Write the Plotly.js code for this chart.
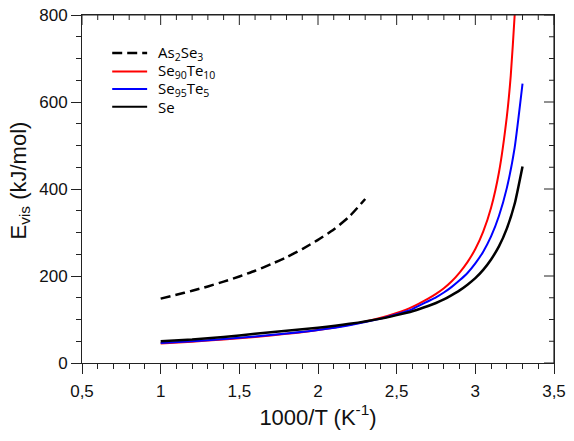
<!DOCTYPE html>
<html lang="en">
<head>
    <meta charset="UTF-8">
    <title>Viscous flow activation energy</title>
    <script src="https://cdn.plot.ly/plotly-3.0.1.min.js" charset="utf-8"></script>
    <style>
        body { margin: 0; background: #fff; }
        #chart { width: 574px; height: 441px; }
    </style>
</head>
<body>
<div id="chart"></div>
<script>
// As2Se3 (dashed)
const xAsSe = [1.0, 1.1, 1.2, 1.3, 1.4, 1.5, 1.6, 1.7, 1.8, 1.9, 2.0, 2.1, 2.2, 2.3];
const yAsSe = [148, 157, 166, 176, 187, 199, 212, 227, 243, 262, 283, 307, 337, 377];

// Se90Te10
const xTe10 = [1.0, 1.2, 1.4, 1.6, 1.8, 2.0, 2.2, 2.4, 2.5, 2.6, 2.7, 2.75, 2.8, 2.85, 2.9, 2.95, 3.0, 3.05, 3.1, 3.15, 3.2, 3.225, 3.25, 3.275];
const yTe10 = [45, 49, 54, 60, 67, 76, 88, 104, 115, 129, 148, 159, 172, 188, 208, 232, 262, 302, 357, 438, 566, 660, 800, 1020];

// Se95Te5
const xTe5 = [1.0, 1.2, 1.4, 1.6, 1.8, 2.0, 2.2, 2.4, 2.5, 2.6, 2.7, 2.75, 2.8, 2.85, 2.9, 2.95, 3.0, 3.05, 3.1, 3.15, 3.2, 3.25, 3.3];
const yTe5 = [46, 50, 55, 61, 68, 76, 87, 102, 112, 124, 142, 151, 162, 175, 190, 207, 229, 256, 291, 338, 402, 495, 642];

// Se
const xSe = [1.0, 1.2, 1.4, 1.6, 1.8, 2.0, 2.2, 2.4, 2.5, 2.6, 2.7, 2.75, 2.8, 2.85, 2.9, 2.95, 3.0, 3.05, 3.1, 3.15, 3.2, 3.25, 3.3];
const ySe = [50, 54, 60, 67, 74, 81, 90, 102, 110, 119, 131, 138, 146, 156, 167, 180, 195, 214, 238, 268, 309, 366, 452];

// tick positions for the inward ticks on the top and right edges
const xMajor = [0.5, 1, 1.5, 2, 2.5, 3, 3.5];
const xMinor = [0.6, 0.7, 0.8, 0.9, 1.1, 1.2, 1.3, 1.4, 1.6, 1.7, 1.8, 1.9, 2.1, 2.2, 2.3, 2.4,
                2.6, 2.7, 2.8, 2.9, 3.1, 3.2, 3.3, 3.4];
const yMajor = [0, 200, 400, 600, 800];
const yMinor = [50, 100, 150, 250, 300, 350, 450, 500, 550, 650, 700, 750];

// legend entries
const legendNames = ['As<sub>2</sub>Se<sub>3</sub>', 'Se<sub>90</sub>Te<sub>10</sub>', 'Se<sub>95</sub>Te<sub>5</sub>', 'Se'];
const legendColors = ['#000000', '#ff0000', '#0000ff', '#000000'];
const legendDash = ['10px,5px', 'solid', 'solid', 'solid'];
const legendY = [0.891, 0.838, 0.787, 0.736];

const axisFont = { family: 'Liberation Sans, Arial, sans-serif', size: 17, color: '#111' };
const titleFont = { family: 'Liberation Sans, Arial, sans-serif', size: 22, color: '#111' };

const data = [
    { x: xAsSe, y: yAsSe, mode: 'lines', name: 'As2Se3',
      line: { color: legendColors[0], width: 2.5, dash: legendDash[0], shape: 'spline', smoothing: 0.5 } },
    { x: xTe10, y: yTe10, mode: 'lines', name: 'Se90Te10',
      line: { color: legendColors[1], width: 2, shape: 'spline', smoothing: 0.5 } },
    { x: xTe5, y: yTe5, mode: 'lines', name: 'Se95Te5',
      line: { color: legendColors[2], width: 2, shape: 'spline', smoothing: 0.5 } },
    { x: xSe, y: ySe, mode: 'lines', name: 'Se',
      line: { color: legendColors[3], width: 2.5, shape: 'spline', smoothing: 0.5 } }
];

const shapes = [];
const annotations = [];

// top and right frame lines
shapes.push({ type: 'line', xref: 'paper', yref: 'paper', x0: 0, x1: 1, y0: 1, y1: 1,
              line: { color: '#222', width: 1.2 } });
shapes.push({ type: 'line', xref: 'paper', yref: 'paper', x0: 1, x1: 1, y0: 0, y1: 1,
              line: { color: '#222', width: 1.2 } });

// inward ticks on top (length in px via ysizemode pixel) and right
function topTick(v, len) {
    return { type: 'line', xref: 'x', yref: 'paper', ysizemode: 'pixel', yanchor: 1,
             x0: v, x1: v, y0: 0, y1: -len, line: { color: '#222', width: 1 } };
}
function rightTick(v, len) {
    return { type: 'line', xref: 'paper', yref: 'y', xsizemode: 'pixel', xanchor: 1,
             x0: 0, x1: -len, y0: v, y1: v, line: { color: '#222', width: 1 } };
}
xMajor.forEach(v => shapes.push(topTick(v, 10)));
xMinor.forEach(v => shapes.push(topTick(v, 5)));
yMajor.forEach(v => shapes.push(rightTick(v, 10)));
yMinor.forEach(v => shapes.push(rightTick(v, 5)));

// hand-made legend (tighter spacing than the built-in one)
legendNames.forEach((name, i) => {
    shapes.push({
        type: 'line', xref: 'paper', yref: 'paper',
        x0: 0.064, x1: 0.138, y0: legendY[i], y1: legendY[i],
        line: { color: legendColors[i], width: i === 0 ? 2.5 : 2, dash: legendDash[i] }
    });
    annotations.push({
        xref: 'paper', yref: 'paper', x: 0.157, y: legendY[i],
        xanchor: 'left', yanchor: 'middle', showarrow: false,
        text: name, font: { family: 'Open Sans, sans-serif', size: 15, color: '#000' }
    });
});

// y title as an annotation so it can sit a little above centre like the original
annotations.push({
    xref: 'paper', yref: 'paper', x: -0.131, y: 0.525,
    xanchor: 'center', yanchor: 'middle', textangle: -90, showarrow: false,
    text: 'E<sub>vis</sub> (kJ/mol)', font: titleFont
});

const layout = {
    width: 574,
    height: 441,
    margin: { l: 82, r: 20, t: 15, b: 78 },
    paper_bgcolor: '#fff',
    plot_bgcolor: '#fff',
    separators: ', ',
    showlegend: false,
    shapes: shapes,
    annotations: annotations,
    xaxis: {
        range: [0.5, 3.5], dtick: 0.5, tick0: 0.5,
        showgrid: false, zeroline: false,
        showline: true, mirror: true, linecolor: '#222', linewidth: 1,
        ticks: 'outside', ticklen: 10, tickcolor: '#222', ticklabelstandoff: 3,
        minor: { dtick: 0.1, ticks: 'outside', ticklen: 5, tickcolor: '#222', showgrid: false },
        tickfont: axisFont,
        title: { text: '1000/T (K<sup>-1</sup>)', font: titleFont, standoff: 6 }
    },
    yaxis: {
        range: [0, 800], dtick: 200,
        showgrid: false, zeroline: false,
        showline: true, mirror: true, linecolor: '#222', linewidth: 1,
        ticks: 'outside', ticklen: 10, tickcolor: '#222',
        minor: { dtick: 50, ticks: 'outside', ticklen: 5, tickcolor: '#222', showgrid: false },
        tickfont: axisFont
    }
};

Plotly.newPlot('chart', data, layout, { displayModeBar: false, staticPlot: true });
</script>
</body>
</html>
